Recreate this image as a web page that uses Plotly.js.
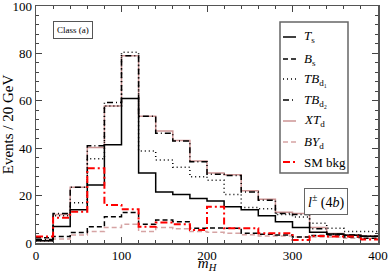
<!DOCTYPE html>
<html>
<head>
<meta charset="utf-8">
<script src="https://cdn.plot.ly/plotly-3.0.1.min.js"></script>
<style>html,body{margin:0;padding:0;background:#fff;}#chart{width:388px;height:273px;}</style>
</head>
<body>
<div id="chart"></div>
<script>
// bin edges (GeV)
const binEdges = [0,20,40,60,80,100,120,140,160,180,200,220,240,260,280,300,320,340,360,380,400];
// events per 20 GeV bin
const Ts    = [1, 7, 14, 24.5, 41.5, 61, 29.5, 21.5, 20.5, 18.8, 17.7, 15.3, 14, 11.5, 9, 6.5, 4.5, 3.8, 3.3, 2.8];
const Bs    = [2.2, 2.7, 4.4, 6.9, 11.1, 12.9, 7.9, 9.7, 9, 6.2, 6.3, 6.2, 4.1, 3.7, 3.4, 2.5, 3.2, 3.4, 2.5, 2];
const TBd1  = [1, 11.5, 17, 35.5, 57.8, 80.5, 38.8, 35, 32, 28, 26.5, 20.5, 15, 14.5, 12, 11, 8.3, 6.2, 4.8, 4.8];
const TBd2  = [1.5, 12.5, 23.5, 41, 59.3, 79, 53.5, 46.3, 43, 34.3, 29, 28.5, 21.5, 18, 12.5, 12, 6, 3.7, 3.4, 2.9];
const XTd   = [1, 12, 23.5, 40.3, 57.8, 79, 53.5, 47.3, 43.3, 34.6, 29.5, 28.8, 22, 18.5, 13, 12.5, 6.5, 4, 3.5, 3];
const BYd   = [1.3, 1.7, 3.4, 4.8, 6.5, 7.9, 4.8, 6.5, 6, 4.8, 4.5, 4.1, 3.5, 3, 3, 2.5, 2.5, 2.5, 2, 2];
const SMbkg = [2.7, 10.7, 13.2, 31.5, 16, 14.2, 6.9, 8.6, 7.9, 5.5, 15.3, 6.2, 6.2, 4.1, 4.1, 1.3, 3, 2.7, 2.7, 1.5];

const names = ['<i>T</i><sub>s</sub>', '<i>B</i><sub>s</sub>', '<i>TB</i><sub>d₁</sub>', '<i>TB</i><sub>d₂</sub>', '<i>XT</i><sub>d</sub>', '<i>BY</i><sub>d</sub>', 'SM bkg'];
const series = [Ts, Bs, TBd1, TBd2, XTd, BYd, SMbkg];
const styles = [
  {color: '#000000', dash: 'solid', width: 1.5},
  {color: '#000000', dash: '5px,3px', width: 1.5},
  {color: '#000000', dash: '1px,3px', width: 1.5},
  {color: '#000000', dash: '6px,3px,1px,3px', width: 1.5},
  {color: '#cc9494', dash: 'solid', width: 1.5},
  {color: '#d6a4a4', dash: '5px,3px', width: 1.5},
  {color: '#ff0000', dash: '7px,3px,2px,3px', width: 2}
];
const drawOrder = [4, 5, 0, 1, 2, 3, 6];

const traces = drawOrder.map(i => ({
  x: binEdges,
  y: series[i].concat([series[i][series[i].length - 1]]),
  type: 'scatter', mode: 'lines', name: names[i],
  line: {shape: 'hv', color: styles[i].color, dash: styles[i].dash, width: styles[i].width},
  showlegend: false
}));

// plot-area geometry in px (for placing the legend box)
const W = 388, H = 273, ML = 36, MR = 10, MT = 6, MB = 30;
const PW = W - ML - MR, PH = H - MT - MB;
const px = v => (v - ML) / PW;
const py = v => (H - MB - v) / PH;

const serif = 'Liberation Serif, Times New Roman, serif';
const axisFont = {family: serif, size: 13, color: '#000'};

const shapes = [{type: 'rect', xref: 'paper', yref: 'paper', x0: px(280), x1: px(348), y0: py(173), y1: py(22),
  line: {color: '#666', width: 1.5}, fillcolor: '#fff', layer: 'above'}];
const annotations = [];
const legendY = [37, 59, 79, 100, 121, 142, 162];
names.forEach((n, i) => {
  shapes.push({type: 'line', xref: 'paper', yref: 'paper', x0: px(283), x1: px(296), y0: py(legendY[i]), y1: py(legendY[i]),
    line: {color: styles[i].color, dash: styles[i].dash, width: styles[i].width}, layer: 'above'});
  annotations.push({text: n, xref: 'paper', yref: 'paper', x: px(302), y: py(legendY[i]), xanchor: 'left', yanchor: 'middle',
    showarrow: false, font: {family: serif, size: 13, color: '#000'}});
});
annotations.push({text: 'Class (a)', xref: 'paper', yref: 'paper', x: px(53), y: py(30), xanchor: 'left', yanchor: 'middle', showarrow: false,
  font: {family: serif, size: 9, color: '#000'}, bordercolor: '#555', borderwidth: 1, borderpad: 3, bgcolor: '#fff'});
annotations.push({text: '<i>l</i><sup>±</sup> (4<i>b</i>)', xref: 'paper', yref: 'paper', x: px(326), y: py(201.5), xanchor: 'center', yanchor: 'middle', showarrow: false,
  font: {family: serif, size: 14, color: '#000'}, bordercolor: '#666', borderwidth: 1, borderpad: 3, bgcolor: '#fff'});

const layout = {
  width: W, height: H,
  margin: {l: ML, r: MR, t: MT, b: MB},
  paper_bgcolor: '#fff', plot_bgcolor: '#fff',
  showlegend: false,
  font: {family: serif, color: '#000'},
  xaxis: {
    range: [0, 400], tickmode: 'linear', tick0: 0, dtick: 100,
    ticks: 'inside', ticklen: 6, tickwidth: 1, tickcolor: '#444', ticklabeloverflow: 'allow',
    minor: {dtick: 20, ticks: 'inside', ticklen: 3, tickcolor: '#444', showgrid: false},
    showline: true, linecolor: '#555', linewidth: 1.5, mirror: 'allticks',
    showgrid: false, zeroline: false, tickfont: axisFont,
    title: {text: '<i>m</i><sub><i>H</i></sub>', font: {family: serif, size: 15, color: '#000'}, standoff: 4}
  },
  yaxis: {
    range: [0, 100], tickmode: 'linear', tick0: 0, dtick: 20,
    ticks: 'inside', ticklen: 6, tickwidth: 1, tickcolor: '#444', ticklabeloverflow: 'allow',
    minor: {dtick: 4, ticks: 'inside', ticklen: 3, tickcolor: '#444', showgrid: false},
    showline: true, linecolor: '#555', linewidth: 1.5, mirror: 'allticks',
    showgrid: false, zeroline: false, tickfont: axisFont,
    title: {text: 'Events / 20 GeV', font: {family: serif, size: 15, color: '#000'}, standoff: 0}
  },
  shapes: shapes,
  annotations: annotations
};

Plotly.newPlot('chart', traces, layout, {staticPlot: true, displayModeBar: false});
</script>
</body>
</html>
